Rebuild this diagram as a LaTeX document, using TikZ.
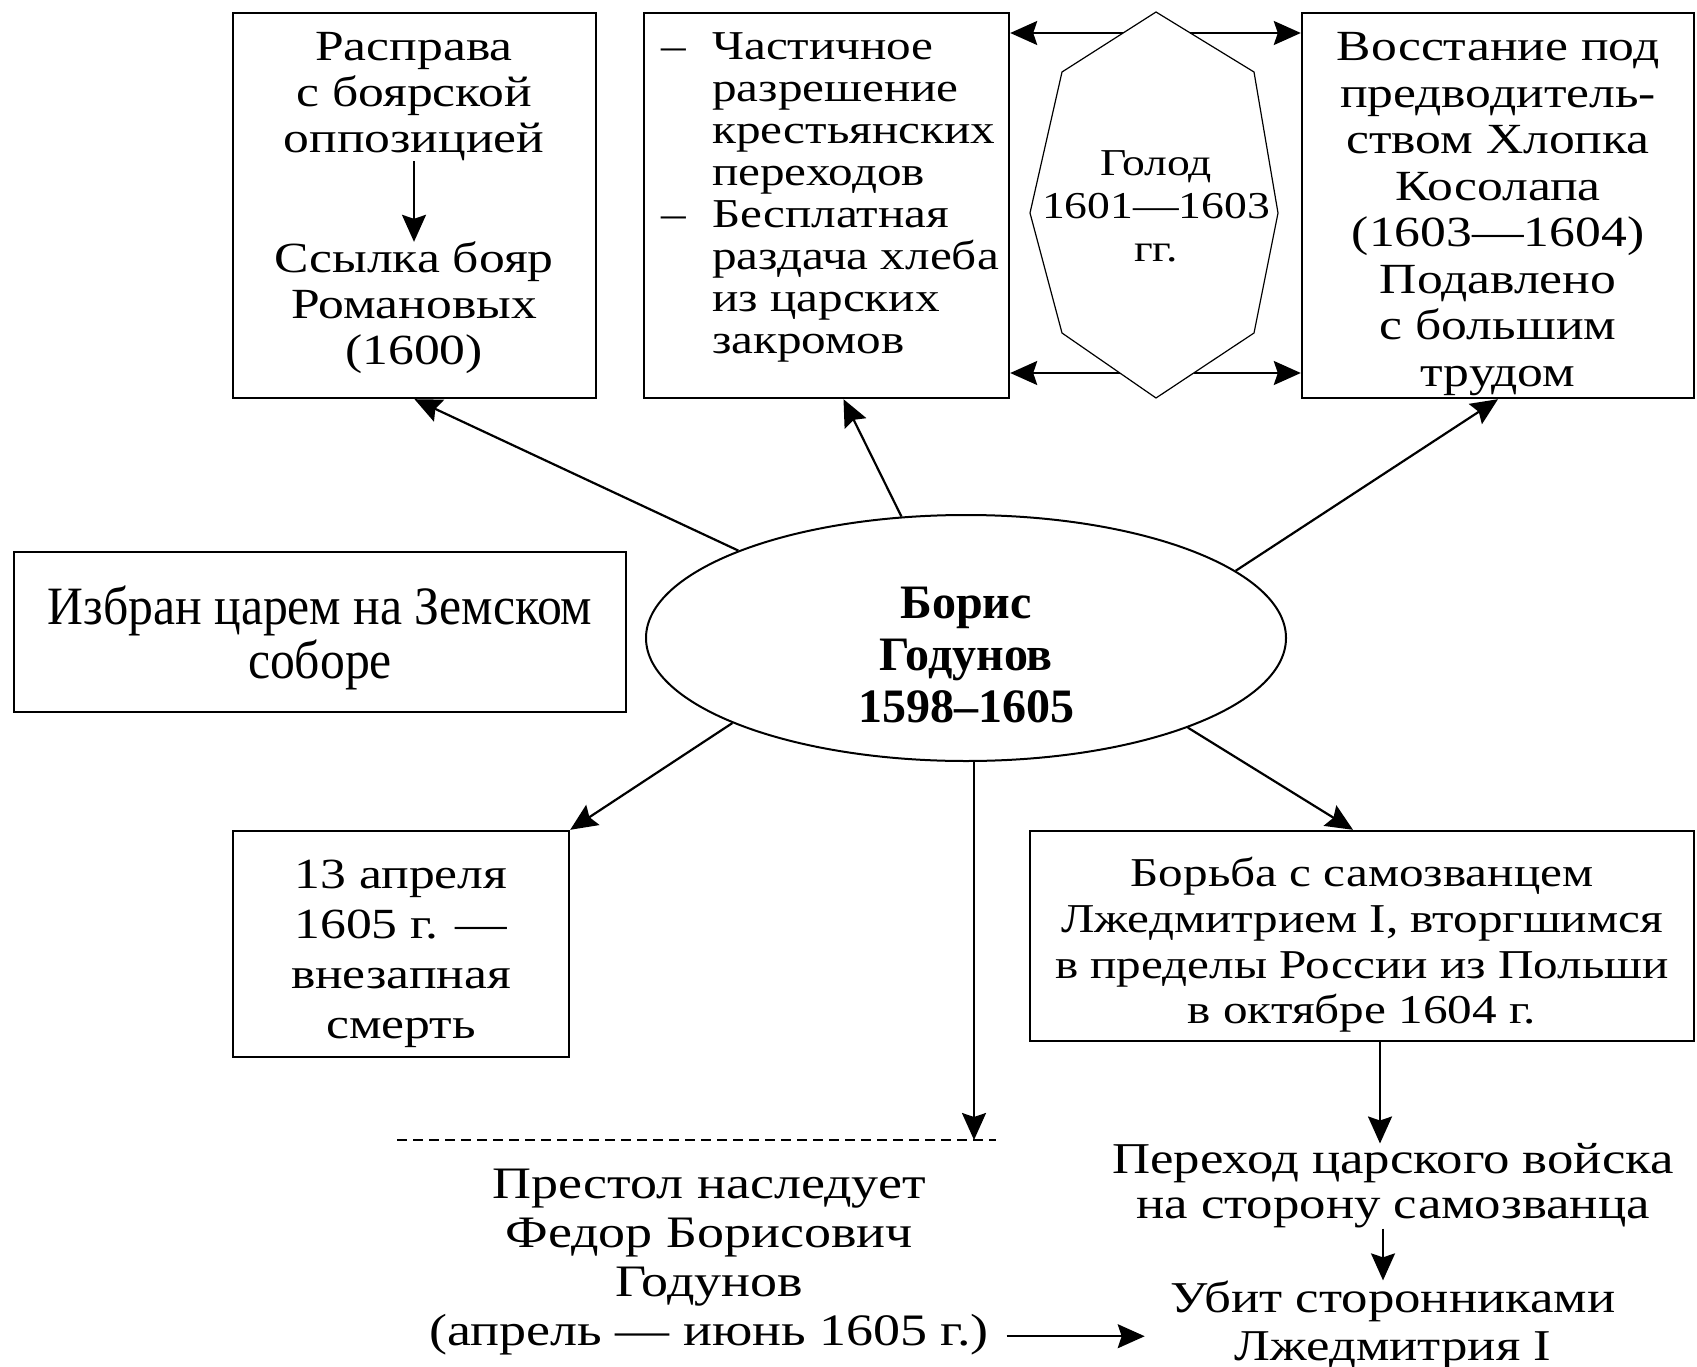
\documentclass[tikz,border=0pt]{standalone}
\usepackage{fontspec}
\setmainfont{Liberation Serif}[FakeStretch=1.2]
\newfontfamily\narrowfont{Liberation Serif}[FakeStretch=0.92]
\newfontfamily\plainfont{Liberation Serif}
\usetikzlibrary{arrows.meta,shapes.geometric}
\tikzset{
  box/.style={draw, line width=2.4pt, inner sep=0pt},
  txt/.style={align=center, inner sep=0pt},
  arr/.style={line width=2.2pt, -{Stealth[length=27pt,width=24pt,inset=4pt]}},
}

\begin{document}
\begin{tikzpicture}[x=1pt,y=-1pt]
\useasboundingbox[fill=white] (0,0) rectangle (1697,1367);

\node[box, minimum width=363pt, minimum height=385pt] (opala) at (414.5,205.5) {};
\node[txt, font=\fontsize{43}{46}\selectfont] (rasprava) at (414,97) {Расправа\\с боярской\\оппозицией};
\node[txt, font=\fontsize{43}{46}\selectfont] (ssylka) at (414,308) {Ссылка бояр\\Романовых\\(1600)};
\draw[arr] (rasprava) -- (ssylka);

\node[box, minimum width=365pt, minimum height=385pt] (lgoty) at (826.5,205.5) {};
\node[txt, align=left, anchor=west, font=\fontsize{41}{42}\selectfont] (lgotytxt) at (661,197.5) {\makebox[51pt][l]{–}Частичное\\\hspace*{51pt}разрешение\\\hspace*{51pt}крестьянских\\\hspace*{51pt}переходов\\\makebox[51pt][l]{–}Бесплатная\\\hspace*{51pt}раздача хлеба\\\hspace*{51pt}из царских\\\hspace*{51pt}закромов};

\draw[line width=1.2pt] (1156,12) -- (1254,72) -- (1278,213) -- (1254,333) -- (1156,398) -- (1062,333) -- (1030,213) -- (1062,72) -- cycle;
\node[txt, font=\fontsize{38}{43}\selectfont] (golod) at (1156,206) {Голод\\1601—1603\\гг.};
\coordinate (gTL) at (1123,33);
\coordinate (gTR) at (1190,33);
\coordinate (gBL) at (1120,373);
\coordinate (gBR) at (1194,373);

\node[box, minimum width=392pt, minimum height=385pt] (vosst) at (1498,205.5) {};
\node[txt, font=\fontsize{43}{46.5}\selectfont] (vossttxt) at (1498,214) {Восстание под\\предводитель-\\ством Хлопка\\Косолапа\\(1603—1604)\\Подавлено\\с большим\\трудом};

\draw[arr] (gTL) -- (lgoty.east |- gTL);
\draw[arr] (gBL) -- (lgoty.east |- gBL);
\draw[arr] (gTR) -- (vosst.west |- gTR);
\draw[arr] (gBR) -- (vosst.west |- gBR);

\node[ellipse, draw, line width=2pt, minimum width=640pt, minimum height=246pt, inner sep=0pt] (boris) at (966,638) {};
\node[txt, font=\plainfont\bfseries\fontsize{48}{52}\selectfont] (borisname) at (966,655) {Борис\\Годунов\\1598–1605};

\node[box, minimum width=612pt, minimum height=160pt] (sobor) at (320,632) {};
\node[txt, font=\narrowfont\fontsize{54}{54}\selectfont] (sobortxt) at (320,638) {Избран царем на Земском\\соборе};

\node[box, minimum width=336pt, minimum height=226pt] (smert) at (401,944) {};
\node[txt, font=\fontsize{43}{50}\selectfont] (smerttxt) at (401,954) {13 апреля\\1605 г. —\\внезапная\\смерть};

\node[box, minimum width=664pt, minimum height=210pt] (borba) at (1362,936) {};
\node[txt, font=\fontsize{41}{45.6}\selectfont] (borbatxt) at (1362,945) {Борьба с самозванцем\\Лжедмитрием I, вторгшимся\\в пределы России из Польши\\в октябре 1604 г.};

\draw[arr] (boris.159) -- (opala.south);
\draw[arr] (boris.118) -- ([xshift=17pt]lgoty.south);
\draw[arr] (boris.14) -- (vosst.south);
\draw[arr] (boris.200) -- (smert.north east);
\draw[arr] (boris.-22) -- ([xshift=-9pt]borba.north);

\draw[dash pattern=on 10pt off 6pt, line width=1.6pt] (397,1140) -- (996,1140);
\coordinate (heir) at (974,1140);
\draw[arr] (boris.south -| heir) -- (heir);

\node[txt, font=\fontsize{45}{49}\selectfont] (prestol) at (709,1262) {Престол наследует\\Федор Борисович\\Годунов\\(апрель — июнь 1605 г.)};

\node[txt, font=\fontsize{44}{45}\selectfont] (perehod) at (1393,1186) {Переход царского войска\\на сторону самозванца};
\node[txt, font=\fontsize{44}{48}\selectfont] (ubit) at (1393,1325) {Убит сторонниками\\Лжедмитрия I};

\coordinate (b1) at ([xshift=18pt]borba.south);
\draw[arr] (b1) -- (b1 |- perehod.north);
\coordinate (p1) at ([xshift=-10pt]perehod.south);
\draw[arr] (p1) -- (p1 |- ubit.north);
\draw[arr] ([xshift=18pt,yshift=19pt]prestol.south east) -- ++(138,0);
\end{tikzpicture}
\end{document}
